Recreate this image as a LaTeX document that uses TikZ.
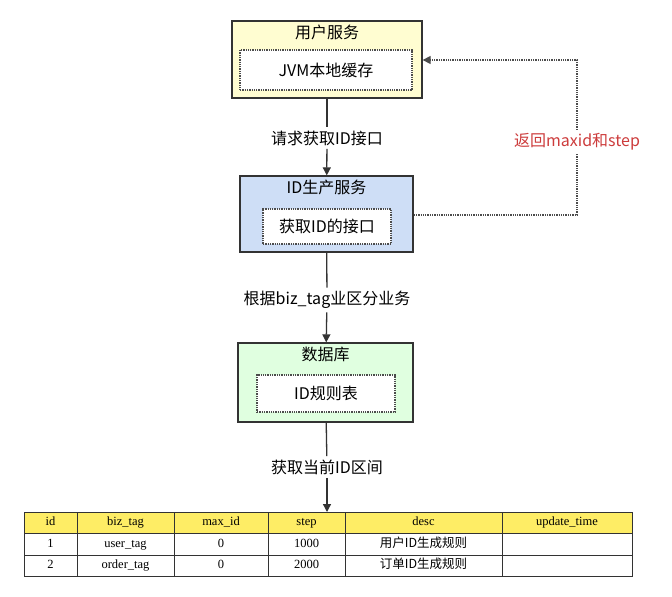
\documentclass[tikz,border=0pt]{standalone}
\usepackage{fontspec}
\setmainfont{Liberation Serif}
\newfontfamily\cjk{Noto Sans CJK SC}
\usetikzlibrary{positioning,arrows.meta}
\tikzset{
  svcbox/.style={draw=black!80,line width=1.3pt,minimum width=190pt,minimum height=76pt},
  innerbox/.style={draw=black!70,densely dotted,line width=1.3pt,fill=white,font=\cjk\fontsize{16}{18}\selectfont},
  title/.style={font=\cjk\fontsize{16}{18}\selectfont},
  flow/.style={draw=black!80,line width=1.3pt,-{Triangle[length=8pt,width=8pt]}},
  cell/.style={draw=black!80,minimum height=21.5pt,inner sep=0pt,text height=9pt,text depth=3pt,font=\fontsize{12.5}{14}\selectfont},
}
\begin{document}
\begin{tikzpicture}[x=1pt,y=-1pt]
\useasboundingbox (0,0) rectangle (672,597);
% services
\node[svcbox,fill=yellow!18,minimum width=190pt,minimum height=77pt] (user) at (327,59.5) {};
\node[title,below=1pt of user.north] (user-t) {用户服务};
\node[innerbox,minimum width=172pt,minimum height=40pt] (cache) at (326,70) {JVM本地缓存};
\node[svcbox,fill={rgb,255:red,206;green,222;blue,246},minimum width=173pt,minimum height=76pt] (idsvc) at (326.5,214) {};
\node[title,below=1pt of idsvc.north] (idsvc-t) {ID生产服务};
\node[innerbox,minimum width=128pt,minimum height=35pt] (getid) at (327,226.5) {获取ID的接口};
\node[svcbox,fill=green!12,minimum width=175pt,minimum height=79pt] (db) at (325.5,382.5) {};
\node[title,below=1pt of db.north] (db-t) {数据库};
\node[innerbox,minimum width=138pt,minimum height=37pt] (rule) at (326,393.5) {ID规则表};
% flows
\node[title,fill=white] (l1) at (327,138) {请求获取ID接口};
\node[title,fill=white] (l2) at (327,300) {根据biz\_tag业区分业务};
\node[title,fill=white] (l3) at (327,467) {获取当前ID区间};
\draw[draw=black!80,line width=1.3pt] (user) -- (l1);
\draw[flow] (l1) -- (idsvc);
\draw[draw=black!80,line width=1.3pt] (idsvc) -- (l2);
\draw[flow] (l2) -- (db);
\draw[draw=black!80,line width=1.3pt] (db) -- (l3);
\coordinate (tab-top) at (327,512);
\draw[flow] (l3) -- (tab-top);
% return path
\coordinate (r1) at (577,215);
\coordinate (r2) at (577,60);
\draw[densely dotted,line width=1.3pt,draw=black!70,-{Triangle[length=8pt,width=8pt]}]
  (idsvc.east |- r1) -- (r1) -- (r2) -- (user.east |- r2);
\node[title,fill=white,text={rgb,255:red,205;green,60;blue,60}] (ret) at (577,142) {返回maxid和step};
% table
\foreach \xa/\xb/\txt [count=\i] in {24/77/id,77/174/biz\_tag,174/268/max\_id,268/345/step,345/502/desc,502/632/update\_time}{
  \node[cell,fill=yellow!85!orange!60,minimum width=\xb pt-\xa pt] (h\i) at ({(\xa+\xb)/2},522.5) {\txt};
}
\foreach \xa/\xb/\txt [count=\i] in {24/77/1,77/174/user\_tag,174/268/0,268/345/1000,345/502/{\cjk 用户ID生成规则},502/632/{}}{
  \node[cell,minimum width=\xb pt-\xa pt] (a\i) at ({(\xa+\xb)/2},544) {\txt};
}
\foreach \xa/\xb/\txt [count=\i] in {24/77/2,77/174/order\_tag,174/268/0,268/345/2000,345/502/{\cjk 订单ID生成规则},502/632/{}}{
  \node[cell,minimum width=\xb pt-\xa pt] (b\i) at ({(\xa+\xb)/2},565.5) {\txt};
}
\end{tikzpicture}
\end{document}
